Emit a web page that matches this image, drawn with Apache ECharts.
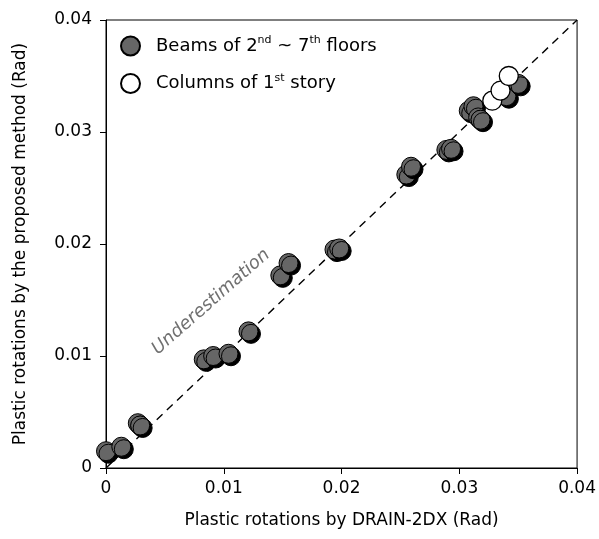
<!DOCTYPE html>
<html>
<head>
<meta charset="utf-8">
<script src="https://cdn.jsdelivr.net/npm/echarts@6/dist/echarts.min.js"></script>
<style>
  html, body { margin: 0; padding: 0; background: #fff; }
  #chart { width: 599px; height: 539px; }
</style>
</head>
<body>
<div id="chart"></div>
<script>
// ticks
const xTicks = ["0", "0.01", "0.02", "0.03", "0.04"];
const yTicks = ["0", "0.01", "0.02", "0.03", "0.04"];

// beams of 2nd ~ 7th floors: [DRAIN-2DX, proposed]
const beamPoints = [
  [0.0000, 0.0015], [0.0013, 0.0019], [0.0027, 0.0040], [0.0029, 0.0038],
  [0.0083, 0.0097], [0.0091, 0.0100], [0.0104, 0.0102], [0.0121, 0.0122],
  [0.0148, 0.0172], [0.0155, 0.0183], [0.0194, 0.0195], [0.0198, 0.0196],
  [0.0255, 0.0262], [0.0259, 0.0269], [0.0289, 0.0284], [0.0293, 0.0285],
  [0.0308, 0.0319], [0.0312, 0.0323], [0.0316, 0.0313], [0.0318, 0.0311],
  [0.0340, 0.0332], [0.0350, 0.0343]
];

// columns of 1st story
const columnPoints = [
  [0.0328, 0.0328], [0.0335, 0.0337], [0.0342, 0.0350]
];

// y = x reference line
const refLine = [[0, 0], [0.04, 0.04]];

const fontFamily = "DejaVu Sans";

const chart = echarts.init(document.getElementById("chart"));

const option = {
  animation: false,
  grid: {
    left: 106,
    right: 21,
    top: 20,
    bottom: 71,
    show: true,
    borderColor: "#000",
    borderWidth: 1
  },
  legend: {
    orient: "vertical",
    left: 115,
    top: 30,
    itemGap: 16,
    itemWidth: 19,
    itemHeight: 19,
    data: ["Beams", "Columns"],
    formatter: function (name) {
      if (name === "Beams") {
        return "{g|}{a|Beams of 2}{s|nd}{a| ~ 7}{s|th}{a| floors}";
      }
      return "{g|}{a|Columns of 1}{s|st}{a| story}";
    },
    textStyle: {
      fontFamily: fontFamily,
      color: "#000",
      rich: {
        g: { width: 11 },
        a: { fontSize: 18, fontFamily: fontFamily, color: "#000", lineHeight: 22 },
        s: { fontSize: 11, fontFamily: fontFamily, color: "#000", lineHeight: 12, verticalAlign: "top" }
      }
    }
  },
  xAxis: {
    type: "value",
    min: 0,
    max: 0.04,
    interval: 0.01,
    name: "Plastic rotations by DRAIN-2DX (Rad)",
    nameLocation: "middle",
    nameGap: 44,
    nameTextStyle: { fontFamily: fontFamily, fontSize: 17, color: "#000" },
    splitLine: { show: false },
    axisLine: { onZero: false, lineStyle: { color: "#000", width: 1 } },
    axisTick: { show: true, inside: false, length: 6, lineStyle: { color: "#000" } },
    axisLabel: {
      margin: 12,
      fontFamily: fontFamily,
      fontSize: 17,
      color: "#000",
      formatter: function (v) { return xTicks[Math.round(v / 0.01)]; }
    }
  },
  yAxis: {
    type: "value",
    min: 0,
    max: 0.04,
    interval: 0.01,
    name: "Plastic rotations by the proposed method (Rad)",
    nameLocation: "middle",
    nameGap: 77,
    nameTextStyle: { fontFamily: fontFamily, fontSize: 17, color: "#000" },
    splitLine: { show: false },
    axisLine: { onZero: false, lineStyle: { color: "#000", width: 1 } },
    axisTick: { show: true, inside: false, length: 6, lineStyle: { color: "#000" } },
    axisLabel: {
      margin: 14,
      fontFamily: fontFamily,
      fontSize: 17,
      color: "#000",
      formatter: function (v) { return yTicks[Math.round(v / 0.01)]; }
    }
  },
  graphic: [
    {
      type: "text",
      x: 211,
      y: 302,
      rotation: 0.72,
      style: {
        text: "Underestimation",
        fontFamily: fontFamily,
        fontStyle: "italic",
        fontSize: 18,
        fill: "#707070",
        align: "center",
        verticalAlign: "middle"
      },
      z: 5
    }
  ],
  series: [
    {
      name: "ref",
      type: "line",
      data: refLine,
      symbol: "none",
      silent: true,
      z: 1,
      lineStyle: { color: "#000", width: 1.4, type: [8, 6] }
    },
    {
      name: "Beams",
      type: "scatter",
      data: beamPoints,
      symbol: "circle",
      symbolSize: 19,
      z: 2,
      itemStyle: {
        color: "#666666",
        borderColor: "#000",
        borderWidth: 1,
        opacity: 1,
        shadowColor: "#000",
        shadowBlur: 0,
        shadowOffsetX: 2.5,
        shadowOffsetY: 2.5
      }
    },
    {
      name: "Columns",
      type: "scatter",
      data: columnPoints,
      symbol: "circle",
      symbolSize: 19,
      z: 3,
      itemStyle: {
        color: "#ffffff",
        borderColor: "#000",
        borderWidth: 1.3,
        opacity: 1
      }
    }
  ]
};

chart.setOption(option);

window.addEventListener("resize", function () {
  chart.resize();
});
</script>
</body>
</html>
